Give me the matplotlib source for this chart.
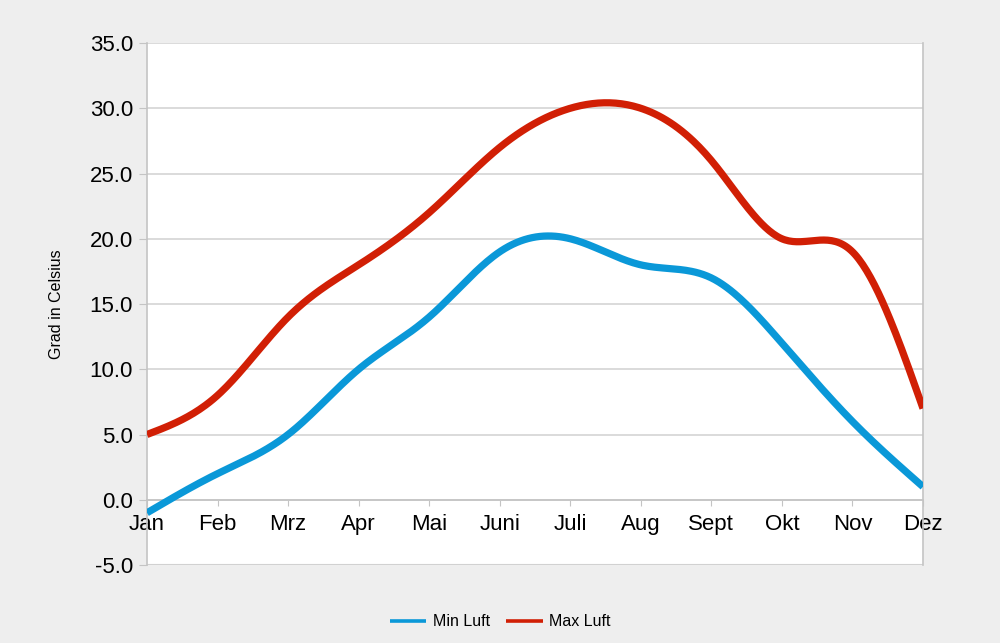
import numpy as np
import matplotlib
matplotlib.use("Agg")
import matplotlib.pyplot as plt

months = ["Jan", "Feb", "Mrz", "Apr", "Mai", "Juni", "Juli", "Aug", "Sept", "Okt", "Nov", "Dez"]
min_luft = [-1, 2, 5, 10, 14, 19, 20, 18, 17, 12, 6, 1]
max_luft = [5, 8, 14, 18, 22, 27, 30, 30, 26, 20, 19, 7]
y_ticks = [-5, 0, 5, 10, 15, 20, 25, 30, 35]


def natural_spline(x, y, n=400):
    # natural cubic spline, only used to draw the smooth curve
    x = np.asarray(x, float)
    y = np.asarray(y, float)
    k = len(x)
    h = np.diff(x)
    A = np.zeros((k, k))
    b = np.zeros(k)
    A[0, 0] = A[-1, -1] = 1
    for i in range(1, k - 1):
        A[i, i - 1] = h[i - 1]
        A[i, i] = 2 * (h[i - 1] + h[i])
        A[i, i + 1] = h[i]
        b[i] = 6 * ((y[i + 1] - y[i]) / h[i] - (y[i] - y[i - 1]) / h[i - 1])
    M = np.linalg.solve(A, b)
    xs = np.linspace(x[0], x[-1], n)
    idx = np.clip(np.searchsorted(x, xs) - 1, 0, k - 2)
    x0, x1 = x[idx], x[idx + 1]
    hh = x1 - x0
    ys = (M[idx] * (x1 - xs) ** 3 / (6 * hh) + M[idx + 1] * (xs - x0) ** 3 / (6 * hh)
          + (y[idx] / hh - M[idx] * hh / 6) * (x1 - xs)
          + (y[idx + 1] / hh - M[idx + 1] * hh / 6) * (xs - x0))
    return xs, ys


plt.rcParams['font.family'] = ['Liberation Sans', 'DejaVu Sans']

fig = plt.figure(figsize=(10, 6.43), dpi=100)
fig.patch.set_facecolor("#eeeeee")
ax = fig.add_axes([0.147, 0.1213, 0.776, 0.8118])
ax.set_facecolor("white")

xpos = np.arange(len(months))
for data, color, label in [(min_luft, "#0a98d8", "Min Luft"), (max_luft, "#d11f05", "Max Luft")]:
    xs, ys = natural_spline(xpos, data)
    ax.plot(xs, ys, color=color, lw=5.2, label=label, solid_capstyle="butt", zorder=3)

grey = "#c4c4c4"
ax.spines["bottom"].set_position(("data", 0))
for s in ["left", "right", "bottom", "top"]:
    ax.spines[s].set_color(grey)
    ax.spines[s].set_linewidth(1.2)
ax.spines["top"].set_visible(False)

ax.set_xlim(0, len(months) - 1)
ax.set_ylim(-5, 35)
ax.set_yticks(y_ticks)
ax.set_yticklabels([f"{v:.1f}" for v in y_ticks])
ax.set_xticks(xpos)
ax.set_xticklabels(months)
ax.grid(axis="y", color="#d4d4d4", lw=1.2, zorder=0)
ax.axhline(-5, color=grey, lw=1.5, zorder=1)
ax.tick_params(axis="y", length=6, color=grey, pad=4, labelsize=16)
ax.tick_params(axis="x", length=4, color=grey, pad=6, labelsize=16)

ax.set_ylabel("Grad in Celsius", fontsize=11.5)
ax.yaxis.set_label_coords(-0.107, 0.5)

leg = fig.legend(loc="center", bbox_to_anchor=(0.5, 0.033), ncol=2, frameon=False,
                 fontsize=11.5, handlelength=2.3, columnspacing=1.0, handletextpad=0.4)
for line in leg.get_lines():
    line.set_linewidth(2.6)

fig.savefig("out.png", dpi=100, facecolor=fig.get_facecolor())
